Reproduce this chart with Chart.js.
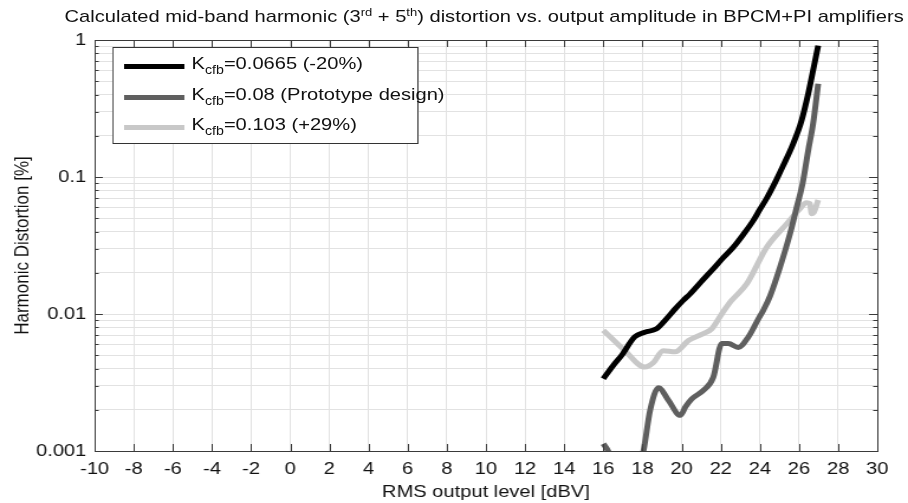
<!DOCTYPE html>
<html>
<head>
<meta charset="utf-8">
<script src="https://cdn.jsdelivr.net/npm/chart.js@4/dist/chart.umd.min.js"></script>
<style>
    body { margin: 0; background: #fff; overflow: hidden; }
    /* the reference is stretched horizontally, so the whole figure is drawn narrow and scaled */
    #wrap { position: relative; width: 768px; height: 503px; transform: scaleX(1.1823); transform-origin: 0 0;
            font-family: "Liberation Sans", Arial, sans-serif; color: #111; }
    #title { position: absolute; left: 0; width: 819px; top: 7px; text-align: center; font-size: 17px; white-space: nowrap; }
    #title sup { font-size: 11px; vertical-align: 6px; line-height: 0; }
    #legend { position: absolute; left: 95px; top: 47px; width: 259px; height: 97px; border: 1px solid #333; background: #fff; box-sizing: border-box; }
    .row { position: absolute; left: 9px; height: 24px; font-size: 17px; white-space: nowrap; }
    .row .swatch { position: absolute; left: 0; top: 10px; width: 51px; height: 5px; }
    .row .lbl { position: absolute; left: 57px; top: 0; }
    .row sub { font-size: 12px; vertical-align: -5px; line-height: 0; }
</style>
</head>
<body>
<div id="wrap">
    <canvas id="thdChart" width="768" height="503"></canvas>
    <div id="title">Calculated mid-band harmonic (3<sup>rd</sup> + 5<sup>th</sup>) distortion vs. output amplitude in BPCM+PI amplifiers</div>
    <div id="legend"></div>
</div>
<script>
// Series: K_cfb = 0.0665 (-20%)
const lowX = [16, 16.5, 16.94, 17.6, 18.12, 18.72, 19.16, 19.67, 20.09, 20.43, 21.0, 21.62, 22.1, 22.64, 23.15, 23.66, 24.0, 24.35, 24.82, 25.19, 25.7, 26.13, 26.47, 26.72, 26.98];
const lowY = [0.00337, 0.0042, 0.0050, 0.0068, 0.00736, 0.0078, 0.0090, 0.0109, 0.0126, 0.014, 0.0172, 0.0214, 0.0255, 0.0307, 0.038, 0.048, 0.058, 0.070, 0.094, 0.121, 0.175, 0.258, 0.405, 0.60, 0.91];

// Series: K_cfb = 0.08 (prototype)
const protoX = [16, 16.26, 16.5, 17.85, 18.05, 18.39, 18.82, 19.33, 19.93, 20.2, 20.52, 21.11, 21.62, 22.05, 22.39, 22.9, 23.41, 23.92, 24.2, 24.52, 25.03, 25.54, 25.88, 26.18, 26.47, 26.72, 26.98];
const protoY = [0.00113, 0.00099, 0.0008, 0.0008, 0.001, 0.00198, 0.0029, 0.00234, 0.00182, 0.0021, 0.0024, 0.00277, 0.00346, 0.0061, 0.0061, 0.0057, 0.0068, 0.0092, 0.0108, 0.0135, 0.022, 0.0385, 0.060, 0.089, 0.156, 0.245, 0.48];

// Series: K_cfb = 0.103 (+29%)
const highX = [16, 17.1, 18.12, 18.55, 19.06, 19.67, 20.35, 21.11, 21.54, 22.05, 22.5, 23.33, 24.35, 25.37, 26.04, 26.38, 26.55, 26.65, 26.75, 26.98];
const highY = [0.0076, 0.0054, 0.0041, 0.0044, 0.0054, 0.0053, 0.0064, 0.0072, 0.0078, 0.010, 0.0123, 0.0166, 0.0307, 0.0455, 0.0586, 0.065, 0.064, 0.054, 0.055, 0.068];

const seriesNames = [['K', 'cfb', '=0.0665 (-20%)'], ['K', 'cfb', '=0.08 (Prototype design)'], ['K', 'cfb', '=0.103 (+29%)']];
const seriesColors = ['#000000', '#5f5f5f', '#c8c8c8'];

const xMin = -10, xMax = 30, xStep = 2;
const yTickValues = [0.001, 0.01, 0.1, 1];
const yTickLabels = ['0.001', '0.01', '0.1', '1'];

const toPoints = (xs, ys) => xs.map((x, i) => ({ x: x, y: ys[i] }));

// Build the legend box (subscripts need html)
const legendEl = document.getElementById('legend');
seriesNames.forEach((name, i) => {
    const row = document.createElement('div');
    row.className = 'row';
    row.style.top = (6 + i * 30.5) + 'px';
    row.innerHTML = '<div class="swatch" style="background:' + seriesColors[i] + '"></div>' +
        '<span class="lbl">' + name[0] + '<sub>' + name[1] + '</sub>' + name[2] + '</span>';
    legendEl.appendChild(row);
});

// Box around the plot with inward ticks on all four sides
const boxTicks = {
    id: 'boxTicks',
    afterDraw(chart) {
        const { ctx, chartArea: a, scales } = chart;
        ctx.save();
        ctx.strokeStyle = '#3a3a3a';
        ctx.lineWidth = 1;
        ctx.beginPath();
        scales.x.ticks.forEach(t => {
            const px = Math.round(scales.x.getPixelForValue(t.value)) + 0.5;
            ctx.moveTo(px, a.bottom); ctx.lineTo(px, a.bottom - 7);
            ctx.moveTo(px, a.top); ctx.lineTo(px, a.top + 7);
        });
        scales.y.ticks.forEach(t => {
            const py = Math.round(scales.y.getPixelForValue(t.value)) + 0.5;
            const len = yTickValues.includes(t.value) ? 7 : 3.5;
            ctx.moveTo(a.left, py); ctx.lineTo(a.left + len, py);
            ctx.moveTo(a.right, py); ctx.lineTo(a.right - len, py);
        });
        ctx.stroke();
        ctx.strokeRect(Math.round(a.left) + 0.5, Math.round(a.top) + 0.5, Math.round(a.right - a.left), Math.round(a.bottom - a.top));
        ctx.restore();
    }
};

const font = { family: '"Liberation Sans", Arial, sans-serif', size: 17 };

const ctx = document.getElementById('thdChart').getContext('2d');
const thdChart = new Chart(ctx, {
    type: 'line',
    data: {
        datasets: [
            { data: toPoints(lowX, lowY), borderColor: seriesColors[0], borderWidth: 5, clip: 0 },
            { data: toPoints(protoX, protoY), borderColor: seriesColors[1], borderWidth: 5, clip: 0 },
            { data: toPoints(highX, highY), borderColor: seriesColors[2], borderWidth: 5, clip: 0 }
        ]
    },
    options: {
        responsive: false,
        animation: false,
        parsing: false,
        elements: { point: { radius: 0 }, line: { cubicInterpolationMode: 'monotone', borderCapStyle: 'butt' } },
        layout: { padding: { top: 40, right: 26, left: 0, bottom: 0 } },
        plugins: { legend: { display: false }, title: { display: false }, tooltip: { enabled: false } },
        scales: {
            x: {
                type: 'linear',
                min: xMin,
                max: xMax,
                afterFit: s => { s.height = 52; },
                ticks: { stepSize: xStep, font: font, color: '#111', padding: 8, autoSkip: false, maxRotation: 0 },
                grid: { color: '#e2e2e2', drawTicks: false },
                border: { display: false },
                title: { display: true, text: 'RMS output level [dBV]', font: font, color: '#111', padding: { top: 0, bottom: 0 } }
            },
            y: {
                type: 'logarithmic',
                min: yTickValues[0],
                max: yTickValues[yTickValues.length - 1],
                afterFit: s => { s.width = 80; },
                afterBuildTicks: s => {
                    // decade ticks plus the 2..9 minor ones for the grid
                    const ticks = [];
                    for (let d = 0; d < yTickValues.length; d++) {
                        for (let m = 1; m <= (d === yTickValues.length - 1 ? 1 : 9); m++) {
                            ticks.push({ value: +(yTickValues[d] * m).toPrecision(3) });
                        }
                    }
                    s.ticks = ticks;
                },
                ticks: {
                    font: font,
                    color: '#111',
                    padding: 7,
                    autoSkip: false,
                    callback: v => {
                        const i = yTickValues.indexOf(v);
                        return i >= 0 ? yTickLabels[i] : '';
                    }
                },
                grid: { color: '#e2e2e2', drawTicks: false },
                border: { display: false },
                title: { display: true, text: 'Harmonic Distortion [%]', font: font, color: '#111', padding: { top: 9, bottom: 0 } }
            }
        }
    },
    plugins: [boxTicks]
});
</script>
</body>
</html>
